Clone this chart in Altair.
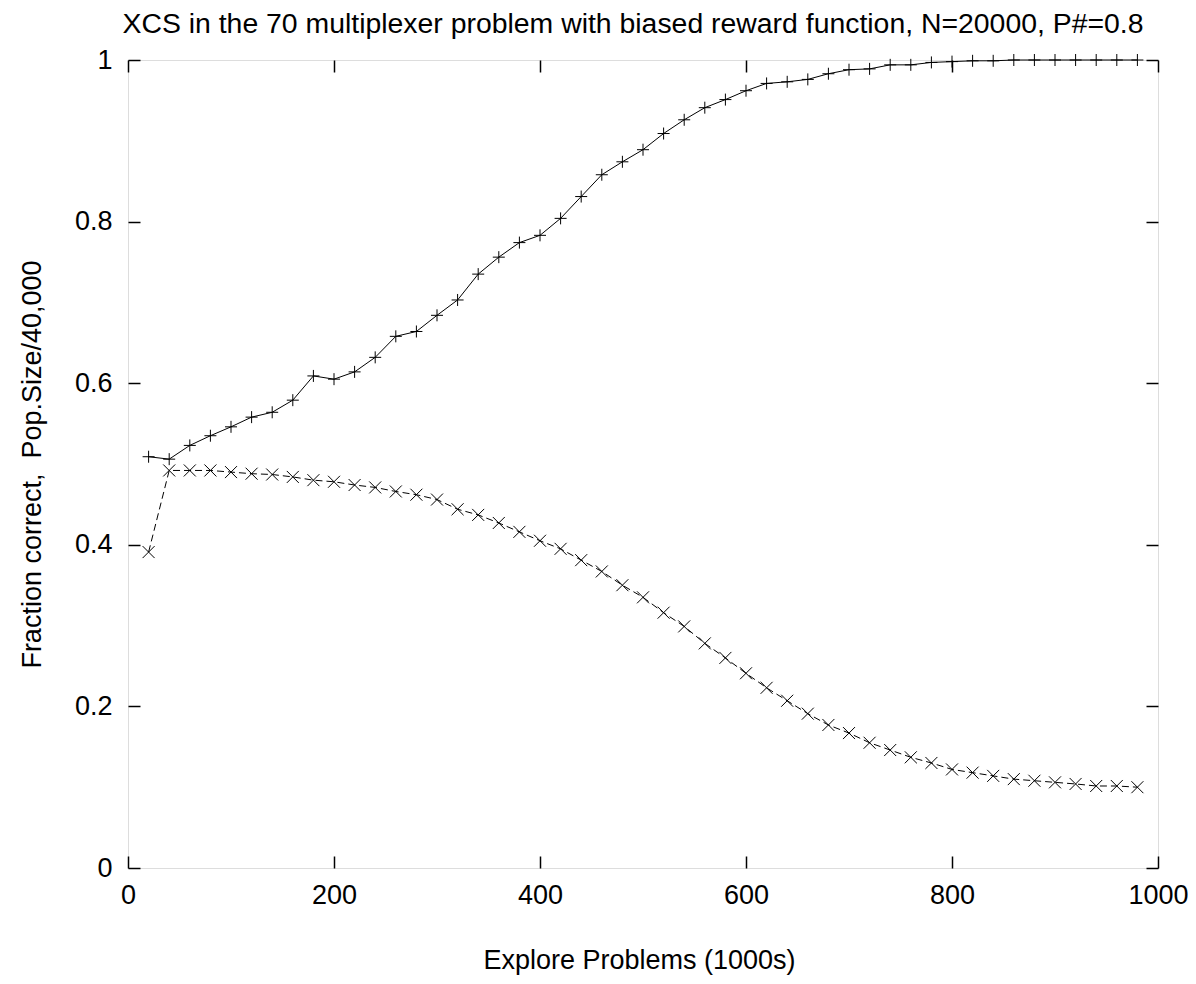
import altair as alt
import pandas as pd

TITLE = "XCS in the 70 multiplexer problem with biased reward function, N=20000, P#=0.8"

x_vals = [20, 40, 60, 80, 100, 120, 140, 160, 180, 200, 220, 240, 260, 280, 300, 320, 340,
          360, 380, 400, 420, 440, 460, 480, 500, 520, 540, 560, 580, 600, 620, 640, 660,
          680, 700, 720, 740, 760, 780, 800, 820, 840, 860, 880, 900, 920, 940, 960, 980]

fraction_correct = [0.509, 0.506, 0.523, 0.535, 0.546, 0.558, 0.564, 0.579, 0.609, 0.605,
                    0.614, 0.632, 0.658, 0.664, 0.684, 0.703, 0.735, 0.756, 0.774, 0.783,
                    0.804, 0.831, 0.858, 0.874, 0.889, 0.909, 0.926, 0.941, 0.951, 0.962,
                    0.971, 0.973, 0.976, 0.983, 0.988, 0.989, 0.994, 0.994, 0.997, 0.998,
                    0.999, 0.999, 1.0, 1.0, 1.0, 1.0, 1.0, 1.0, 1.0]

pop_size = [0.391, 0.492, 0.492, 0.492, 0.490, 0.488, 0.487, 0.484, 0.480, 0.478,
            0.474, 0.471, 0.466, 0.462, 0.456, 0.444, 0.437, 0.427, 0.416, 0.405,
            0.395, 0.381, 0.367, 0.350, 0.335, 0.316, 0.299, 0.278, 0.260, 0.241,
            0.223, 0.207, 0.191, 0.177, 0.167, 0.155, 0.146, 0.137, 0.130, 0.122,
            0.118, 0.114, 0.110, 0.108, 0.106, 0.104, 0.1015, 0.1015, 0.100]

x_ticks = [0, 200, 400, 600, 800, 1000]
y_ticks = [0, 0.2, 0.4, 0.6, 0.8, 1]

FONT = "Liberation Sans"
FS = 27

df = pd.DataFrame({
    "x": x_vals * 2,
    "y": fraction_correct + pop_size,
    "series": ["correct"] * len(x_vals) + ["pop"] * len(x_vals),
})
df_c = df[df.series == "correct"]
df_p = df[df.series == "pop"]

xs = alt.Scale(domain=[0, 1000], nice=False, zero=False)
ys = alt.Scale(domain=[0, 1], nice=False, zero=False)

x_axis = alt.Axis(values=x_ticks, offset=-12, tickSize=12, tickWidth=1.5, tickColor="black",
                  domain=False, grid=False, labelFontSize=FS, labelFont=FONT, format="d",
                  labelColor="black", labelPadding=14, labelFlush=False, labelOverlap=False,
                  title="Explore Problems (1000s)",
                  titleFont=FONT, titleFontSize=FS, titleFontWeight="normal",
                  titleColor="black", titleBaseline="alphabetic", titleY=112, titleX=511)
y_axis = alt.Axis(values=y_ticks, offset=-12, tickSize=12, tickWidth=1.5, tickColor="black",
                  domain=False, grid=False, labelFontSize=FS, labelFont=FONT,
                  labelColor="black", labelPadding=16, format="~g",
                  labelFlush=False, labelOverlap=False,
                  title="Fraction correct,\u00a0 Pop.Size/40,000",
                  titleFont=FONT, titleFontSize=FS, titleFontWeight="normal",
                  titleColor="black", titleAngle=-90, titleBaseline="alphabetic",
                  titleX=-100, titleY=404)

line_c = alt.Chart(df_c).mark_line(color="black", strokeWidth=1).encode(
    x=alt.X("x:Q", scale=xs, axis=x_axis),
    y=alt.Y("y:Q", scale=ys, axis=y_axis),
)
pts_c = alt.Chart(df_c).mark_point(
    shape="M-1,0L1,0M0,-1L0,1", size=144, color="black", filled=False, strokeWidth=1, opacity=1
).encode(x=alt.X("x:Q", scale=xs, axis=None), y=alt.Y("y:Q", scale=ys, axis=None))

line_p = alt.Chart(df_p).mark_line(color="black", strokeWidth=1, strokeDash=[7, 4]).encode(
    x=alt.X("x:Q", scale=xs, axis=None), y=alt.Y("y:Q", scale=ys, axis=None)
)
pts_p = alt.Chart(df_p).mark_point(
    shape="M-1,-1L1,1M-1,1L1,-1", size=144, color="black", filled=False, strokeWidth=1, opacity=1
).encode(x=alt.X("x:Q", scale=xs, axis=None), y=alt.Y("y:Q", scale=ys, axis=None))

# mirrored ticks on top and right
mirror = alt.Chart(df_c).mark_point(opacity=0).encode(
    x=alt.X("x:Q", scale=xs, axis=alt.Axis(orient="top", values=x_ticks, offset=-12,
                                           tickSize=12, tickWidth=1.5, tickColor="black",
                                           domain=False, grid=False, labels=False, title=None)),
    y=alt.Y("y:Q", scale=ys, axis=alt.Axis(orient="right", values=y_ticks, offset=-12,
                                           tickSize=12, tickWidth=1.5, tickColor="black",
                                           domain=False, grid=False, labels=False, title=None)),
)

title_text = alt.Chart(pd.DataFrame({"t": [TITLE]})).mark_text(
    font=FONT, fontSize=28.4, color="black", align="center", baseline="alphabetic"
).encode(x=alt.value(505), y=alt.value(-27), text="t:N")

chart = alt.layer(line_c, line_p, pts_c, pts_p, mirror, title_text).resolve_axis(
    x="independent", y="independent"
).properties(
    width=1030, height=808,
    autosize=alt.AutoSizeParams(type="none"),
    padding={"left": 120, "top": 52, "right": 30, "bottom": 116},
).configure_view(stroke="black", strokeWidth=2).configure(background="white")

chart.save("out.html", embed_options={"renderer": "svg", "actions": False})
